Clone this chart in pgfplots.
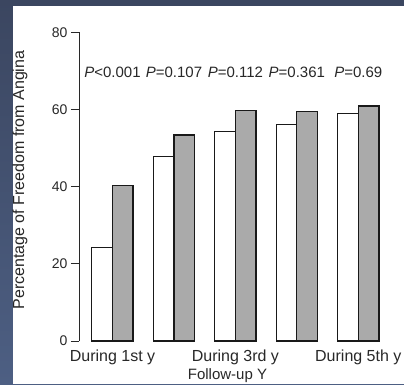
\documentclass[border=0pt]{standalone}
\usepackage{pgfplots}
\pgfplotsset{compat=1.18}
\usepackage{fontspec}
\setmainfont{Liberation Sans}
\definecolor{bgtop}{RGB}{59,70,96}
\definecolor{bgbot}{RGB}{77,95,131}
\definecolor{txt}{RGB}{40,40,40}
\definecolor{barg}{RGB}{170,170,170}
\begin{document}
\begin{tikzpicture}
\useasboundingbox (0,0) rectangle (404pt,384pt);
\shade[top color=bgtop, bottom color=bgbot] (0,0) rectangle (404pt,384pt);
\fill[white] (13pt,0) rectangle (404pt,378pt);
\begin{axis}[
  at={(79pt,43pt)}, anchor=south west,
  scale only axis, width=316.2pt, height=308.7pt,
  xmin=-0.545, xmax=4.6, ymin=0, ymax=80,
  axis lines=left,
  axis line style={-, draw=txt, line width=0.9pt},
  x axis line style={draw=none},
  ybar=0pt, bar width=20.6pt,
  ytick={0,20,40,60,80},
  xtick={0,2,4},
  xticklabels={During 1st y, During 3rd y, During 5th y},
  tick align=outside, major tick length=8pt,
  ytick style={draw=txt, line width=0.9pt},
  xtick style={draw=none},
  /pgf/number format/assume math mode=true,
  yticklabel style={font=\fontsize{14}{16}\selectfont, text=txt},
  xticklabel style={font=\fontsize{16}{18}\selectfont, text=txt, anchor=base, yshift=-12.5pt},
  ylabel={Percentage of Freedom from Angina},
  ylabel style={font=\fontsize{16}{18}\selectfont, text=txt, at={(axis description cs:-0.1866,0.5215)}, anchor=center, rotate=0},
  xlabel={Follow-up Y},
  xlabel style={font=\fontsize{15}{17}\selectfont, text=txt, at={(axis description cs:0.4696,-0.1263)}, anchor=base},
  clip=false,
]
\addplot[fill=white, draw=black!90, line width=1.2pt] coordinates {(0,24.3) (1,47.8) (2,54.2) (3,56.1) (4,59.0)};
\addplot[fill=barg, draw=black!90, line width=1.2pt] coordinates {(0,40.2) (1,53.4) (2,59.8) (3,59.5) (4,60.9)};
\begin{scope}[every node/.style={font=\fontsize{15}{17}\selectfont, text=txt, anchor=base}]
\node at (axis cs:0,68.3) {\textit{P}<0.001};
\node at (axis cs:1,68.3) {\textit{P}=0.107};
\node at (axis cs:2,68.3) {\textit{P}=0.112};
\node at (axis cs:3,68.3) {\textit{P}=0.361};
\node at (axis cs:4,68.3) {\textit{P}=0.69};
\end{scope}
\end{axis}
\end{tikzpicture}
\end{document}
